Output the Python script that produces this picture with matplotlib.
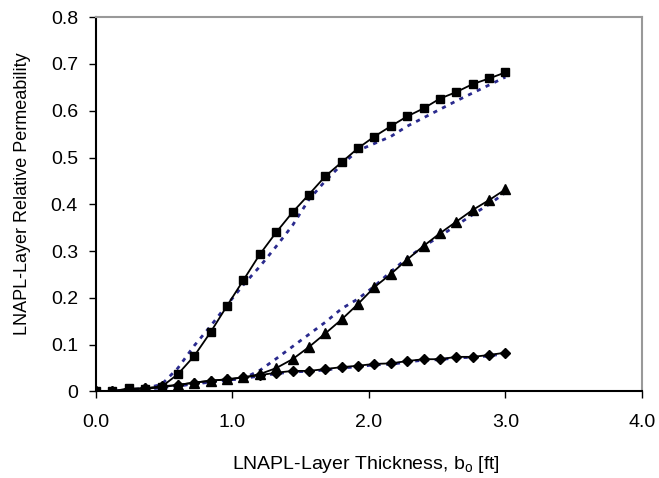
import numpy as np
import matplotlib
matplotlib.use("Agg")
import matplotlib.pyplot as plt

plt.rcParams['font.family'] = ['Liberation Sans', 'DejaVu Sans']

# espesor de la capa de LNAPL [ft]
espesor = [0.00, 0.12, 0.24, 0.36, 0.48, 0.60, 0.72, 0.84, 0.96, 1.08, 1.20, 1.32, 1.44,
           1.56, 1.68, 1.80, 1.92, 2.04, 2.16, 2.28, 2.40, 2.52, 2.64, 2.76, 2.88, 3.00]

# permeabilidad relativa calculada (con marcadores)
kr_cuadrado = [0.000, 0.000, 0.007, 0.005, 0.010, 0.037, 0.076, 0.127, 0.183, 0.238, 0.293,
               0.340, 0.383, 0.421, 0.460, 0.490, 0.520, 0.545, 0.567, 0.588, 0.605, 0.626,
               0.640, 0.657, 0.669, 0.682]
kr_triangulo = [0.000, 0.000, 0.005, 0.007, 0.009, 0.014, 0.019, 0.023, 0.026, 0.030, 0.037,
                0.050, 0.069, 0.095, 0.124, 0.154, 0.187, 0.223, 0.251, 0.282, 0.311, 0.338,
                0.363, 0.388, 0.409, 0.432]
kr_rombo = [0.000, 0.000, 0.005, 0.007, 0.011, 0.014, 0.019, 0.023, 0.026, 0.030, 0.035,
            0.040, 0.044, 0.044, 0.048, 0.052, 0.055, 0.059, 0.060, 0.065, 0.069, 0.069,
            0.074, 0.074, 0.078, 0.083]

# curvas de ajuste (linea punteada)
ajuste_cuadrado = [0.000, 0.000, 0.003, 0.007, 0.015, 0.050, 0.098, 0.140, 0.185, 0.228, 0.267,
                   0.310, 0.355, 0.410, 0.450, 0.485, 0.515, 0.530, 0.545, 0.567, 0.585, 0.603,
                   0.621, 0.638, 0.655, 0.672]
ajuste_triangulo = [0.000, 0.000, 0.002, 0.005, 0.008, 0.012, 0.016, 0.020, 0.024, 0.028, 0.045,
                    0.070, 0.096, 0.122, 0.148, 0.177, 0.198, 0.225, 0.256, 0.285, 0.310, 0.332,
                    0.355, 0.378, 0.400, 0.425]
ajuste_rombo = [0.000, 0.000, 0.003, 0.005, 0.009, 0.012, 0.017, 0.021, 0.024, 0.028, 0.033,
                0.038, 0.042, 0.043, 0.046, 0.050, 0.053, 0.057, 0.058, 0.063, 0.067, 0.068,
                0.072, 0.073, 0.076, 0.081]

fig = plt.figure(figsize=(6.59, 4.78), dpi=100)
ax = fig.add_axes([0.1457, 0.181, 0.8283, 0.783])

azul = "#2a2a8e"
for ajuste in [ajuste_cuadrado, ajuste_triangulo, ajuste_rombo]:
    ax.plot(espesor, ajuste, color=azul, linestyle=(0, (1.5, 2)), linewidth=2.0, zorder=2)

ax.plot(espesor, kr_cuadrado, color="black", linewidth=1.3, marker="s", markersize=5.8, zorder=3)
ax.plot(espesor, kr_triangulo, color="black", linewidth=1.3, marker="^", markersize=6.8, zorder=3)
ax.plot(espesor, kr_rombo, color="black", linewidth=1.3, marker="D", markersize=5.2, zorder=3)

ax.set_xlim(0, 4)
ax.set_ylim(0, 0.8)
ax.set_xticks([0, 1, 2, 3, 4])
ax.set_xticklabels(["0.0", "1.0", "2.0", "3.0", "4.0"])
ax.set_yticks([0, 0.1, 0.2, 0.3, 0.4, 0.5, 0.6, 0.7, 0.8])
ax.set_yticklabels(["0", "0.1", "0.2", "0.3", "0.4", "0.5", "0.6", "0.7", "0.8"])
ax.tick_params(labelsize=14, length=5, width=1, direction="out", colors="black")
ax.tick_params(axis="x", pad=11.5)
ax.tick_params(axis="y", pad=8)

ax.spines["left"].set_color("black")
ax.spines["bottom"].set_color("black")
ax.spines["top"].set_color("#999999")
ax.spines["right"].set_color("#999999")
for s in ax.spines.values():
    s.set_linewidth(1.5)

ax.set_xlabel("LNAPL-Layer Thickness, b$_\\mathregular{o}$ [ft]", fontsize=14)
ax.xaxis.set_label_coords(0.495, -0.168)
ax.set_ylabel("LNAPL-Layer Relative Permeability", fontsize=13, va="center")
ax.yaxis.set_label_coords(-0.134, 0.529)

fig.savefig("out.png", dpi=100)
